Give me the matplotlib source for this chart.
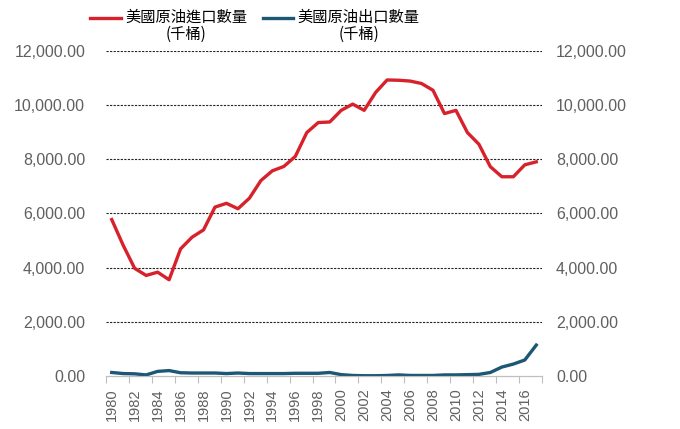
import matplotlib

matplotlib.use("Agg")
import matplotlib.pyplot as plt
import numpy as np
from matplotlib.legend_handler import HandlerLine2D
from matplotlib.ticker import FuncFormatter

plt.rcParams["font.family"] = ["Liberation Sans", "Noto Sans CJK TC", "DejaVu Sans"]

YEARS = list(range(1980, 2018))
IMPORTS = [5770, 4820, 3970, 3710, 3830, 3550, 4690, 5120, 5390, 6230,
           6370, 6170, 6560, 7210, 7570, 7730, 8100, 8980, 9350, 9370,
           9800, 10030, 9800, 10460, 10920, 10910, 10880, 10790, 10540, 9680,
           9800, 8980, 8550, 7720, 7350, 7350, 7790, 7900]
EXPORTS = [130, 90, 80, 40, 170, 200, 120, 110, 110, 110,
           90, 110, 90, 90, 90, 90, 100, 100, 100, 130,
           50, 20, 10, 10, 20, 40, 20, 20, 20, 40,
           40, 50, 60, 130, 330, 440, 590, 1140]
IMPORT_LABEL = "美國原油進口數量\n(千桶)"
EXPORT_LABEL = "美國原油出口數量\n(千桶)"
Y_TICKS = [0, 2000, 4000, 6000, 8000, 10000, 12000]

RED = "#d7212b"
BLUE = "#1d5774"
GRAY = "#606060"


class _TopLine(HandlerLine2D):
    """Put the legend line level with the first text line, not the middle."""

    def create_artists(self, legend, orig_handle, xdescent, ydescent, width,
                       height, fontsize, trans):
        arts = super().create_artists(legend, orig_handle, xdescent, ydescent,
                                      width, height, fontsize, trans)
        for a in arts:
            a.set_ydata(np.asarray(a.get_ydata()) + 0.62 * fontsize)
        return arts


fig = plt.figure(figsize=(6.8, 4.29), dpi=100)
ax = fig.add_axes([106 / 680, 1 - 376 / 429, 436 / 680, (376 - 50.7) / 429])

x = np.arange(len(YEARS))
l1, = ax.plot(x, IMPORTS, color=RED, lw=2.4, label=IMPORT_LABEL, zorder=3)
l2, = ax.plot(x, EXPORTS, color=BLUE, lw=2.4, label=EXPORT_LABEL, zorder=3)

ax.set_xlim(-0.5, len(YEARS) - 0.5)
ax.set_ylim(0, 12000)

# y axis: same labels on both sides, no tick marks
fmt = FuncFormatter(lambda v, _: f"{v:,.2f}")
ax.set_yticks(Y_TICKS)
ax.yaxis.set_major_formatter(fmt)
ax.tick_params(axis="y", length=0, labelsize=11.5, labelcolor=GRAY, pad=15)

ax_r = ax.twinx()
ax_r.set_ylim(ax.get_ylim())
ax_r.set_yticks(Y_TICKS)
ax_r.yaxis.set_major_formatter(fmt)
ax_r.tick_params(axis="y", length=0, labelsize=11.5, labelcolor=GRAY, pad=10)

ax.grid(axis="y", color="#222222", lw=0.8, linestyle=(0, (2, 1.2)))
ax.yaxis.get_gridlines()[0].set_visible(False)
ax.set_axisbelow(True)

# x axis: tick marks at category boundaries, labels centred on categories
ax.set_xticks(np.arange(-0.5, len(YEARS), 2))
ax.set_xticklabels([])
ax.set_xticks(x[::2], minor=True)
ax.set_xticklabels([str(y) for y in YEARS[::2]], minor=True, rotation=90)
ax.tick_params(axis="x", which="major", length=5, color="#bfbfbf", width=0.8)
ax.tick_params(axis="x", which="minor", length=0, pad=9, labelsize=10.5,
               labelcolor=GRAY)

for a in (ax, ax_r):
    for side in ("top", "left", "right"):
        a.spines[side].set_visible(False)
    a.spines["bottom"].set_color("#bfbfbf")
    a.spines["bottom"].set_linewidth(0.8)

leg = fig.legend(handles=[l1, l2], loc="upper center",
                 bbox_to_anchor=(255 / 680, 1.0), ncol=2, frameon=False,
                 prop={"family": ["Noto Sans CJK TC", "DejaVu Sans"], "size": 11},
                 handlelength=2.0, handletextpad=0.3, columnspacing=1.0,
                 borderpad=0.1, handler_map={l1: _TopLine(), l2: _TopLine()})
for t in leg.get_texts():
    t.set_multialignment("center")
    t.set_linespacing(1.0)

fig.savefig("out.png", dpi=100)
